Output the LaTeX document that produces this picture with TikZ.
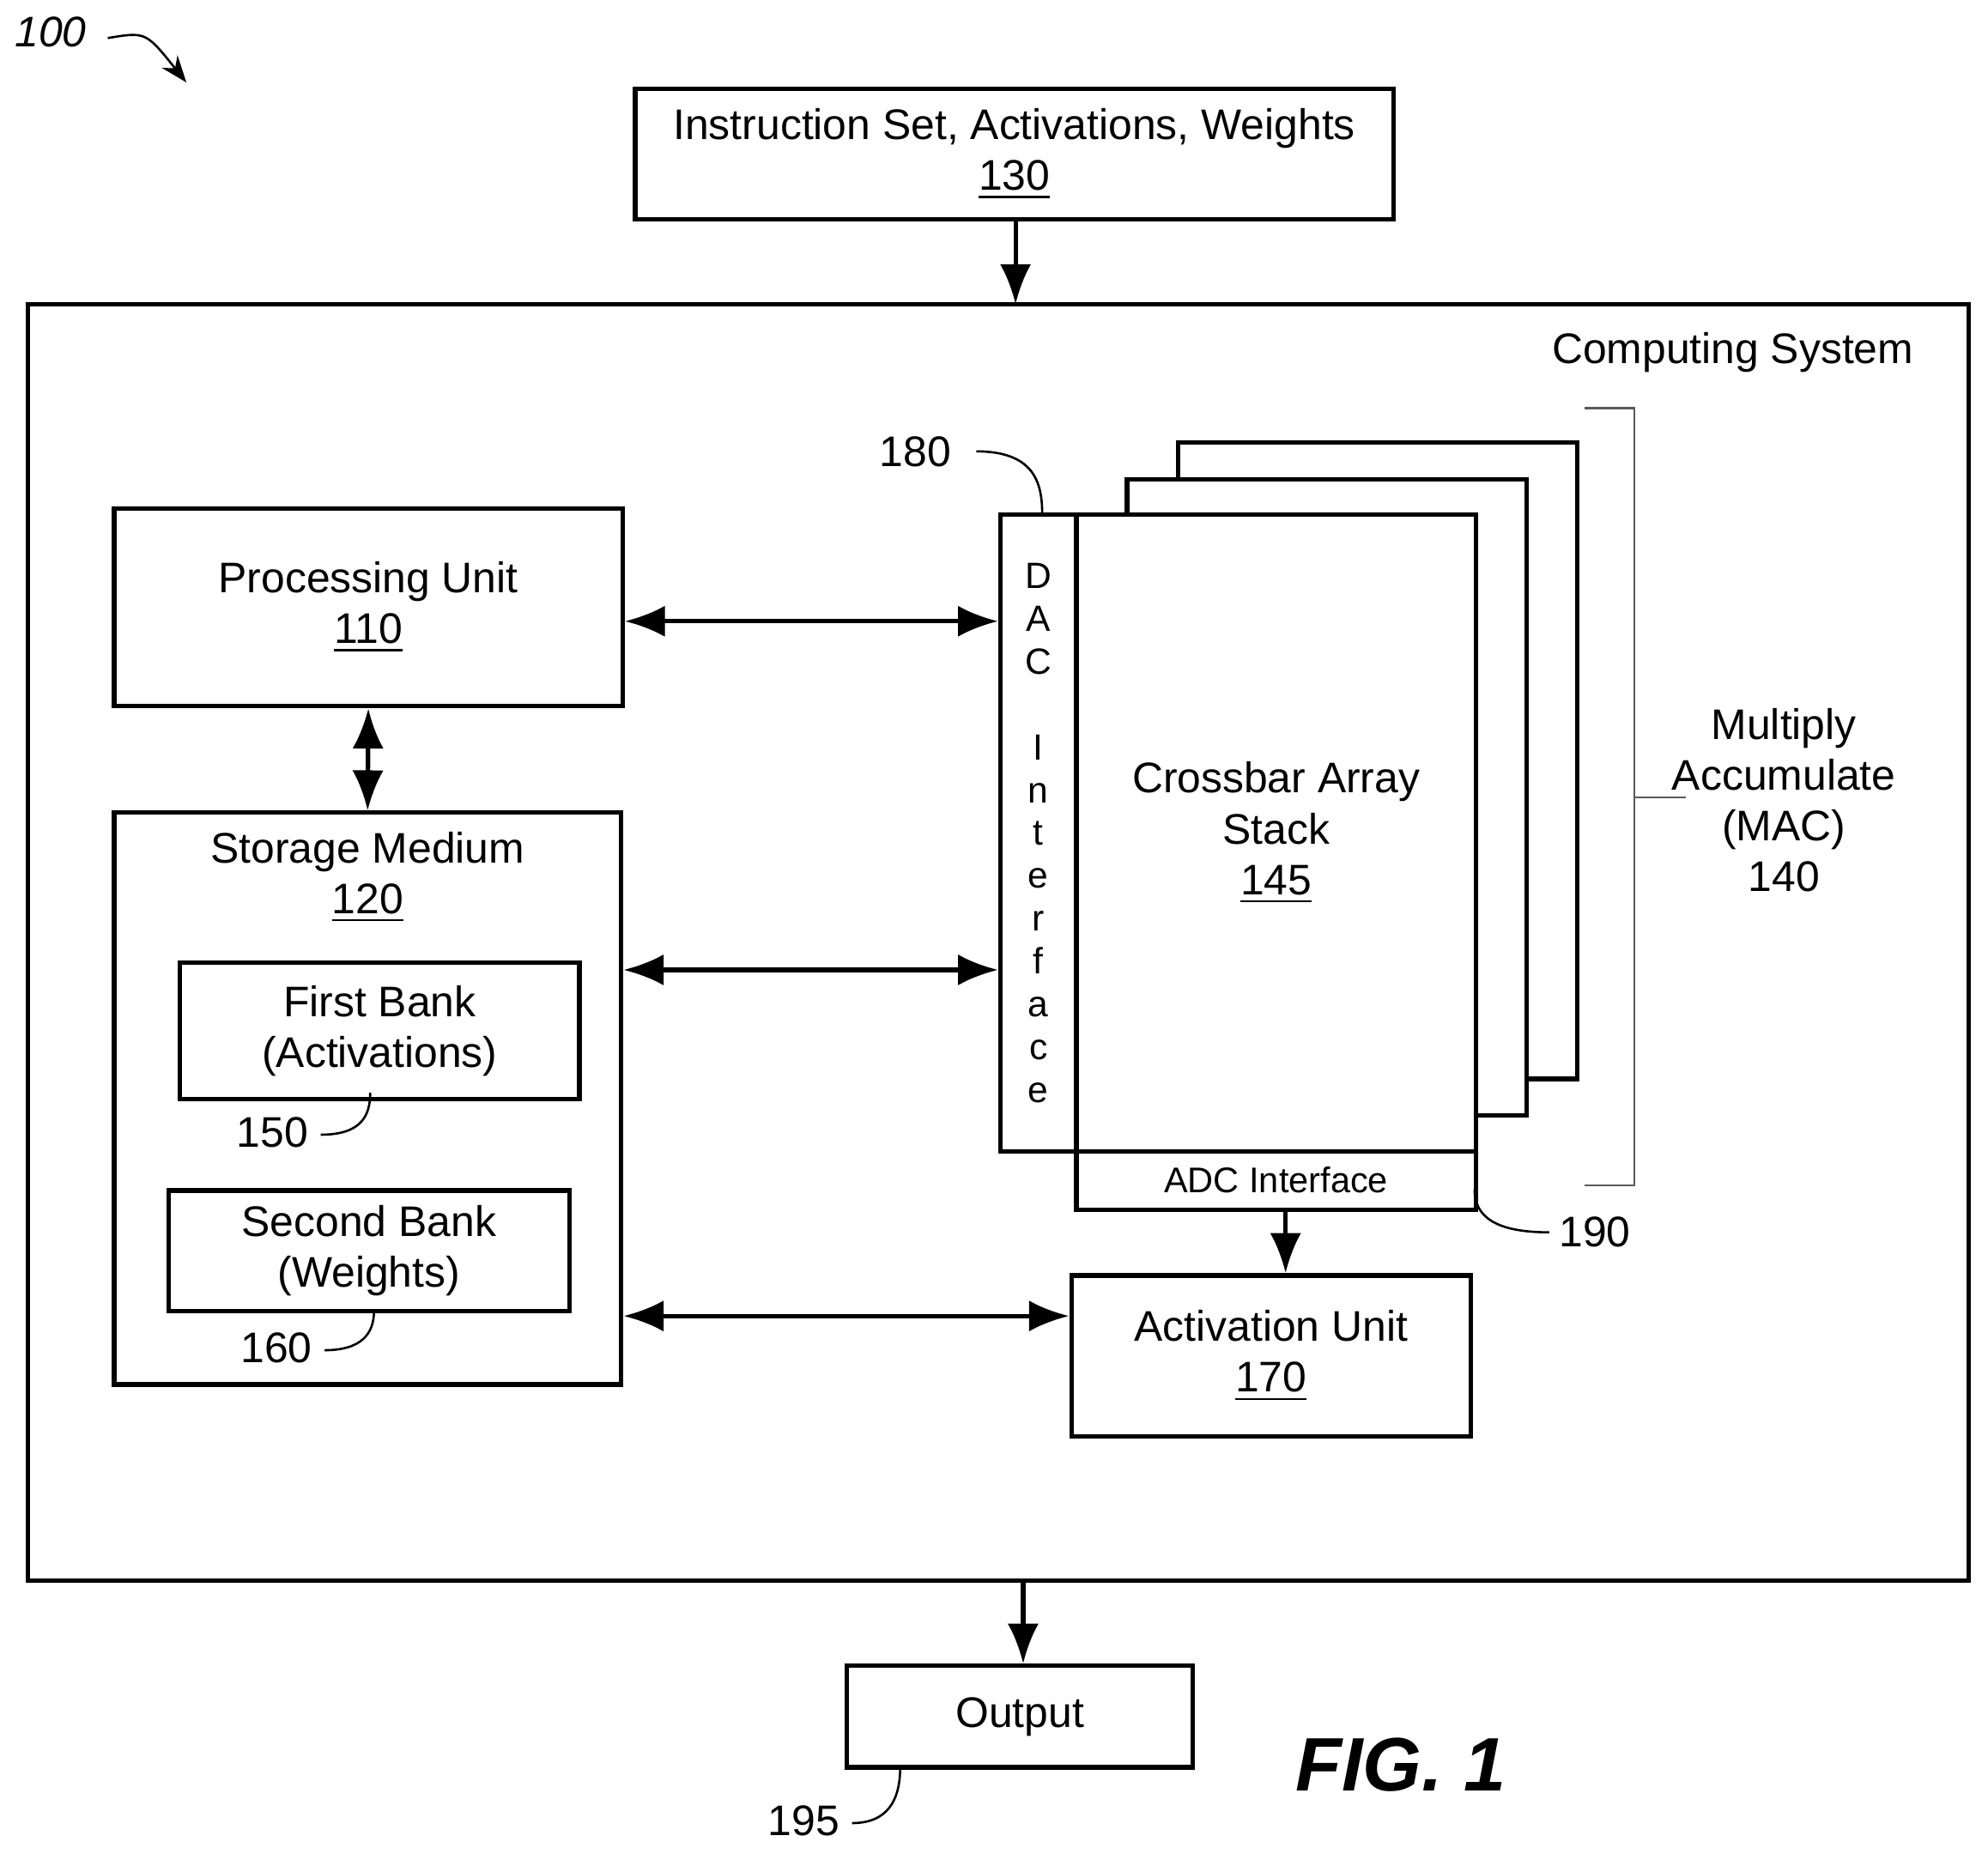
\documentclass[tikz,border=0pt]{standalone}
\usepackage{fontspec}
\setmainfont{Liberation Sans}
\usetikzlibrary{arrows.meta}
\newlength{\du}
\setlength{\du}{0.01cm}
\tikzset{
  box/.style={draw, line width=1pt, fill=white, inner sep=0pt, align=center,
    font=\fontsize{9.6}{11.4}\selectfont},
  txt/.style={inner sep=0pt, align=center, font=\fontsize{9.6}{11.4}\selectfont},
  link/.style={line width=1pt, {Latex[length=9pt,width=7pt]}-{Latex[length=9pt,width=7pt]}},
  flow/.style={line width=1pt, -{Latex[length=9pt,width=7pt]}},
  lead/.style={line width=0.5pt},
}
\begin{document}
\begin{tikzpicture}[x=1\du, y=-1\du]
\useasboundingbox (0,0) rectangle (1568,1462);
% reference numeral of the figure
\node[txt, font=\fontsize{9.6}{11.4}\selectfont\itshape] (n100) at (40,25) {100};
\draw[lead, -{Stealth[length=6pt]}] (85,30) .. controls (115,25) .. (147,65);
% input
\node[box, minimum width=598\du, minimum height=103\du] (instr) at (800,121.5)
  {Instruction Set, Activations, Weights\\\underline{130}};
% computing system
\node[box, fill=none, minimum width=1531\du, minimum height=1007\du] (sys) at (787.5,743.5) {};
\node[txt, anchor=east] (systxt) at (1510,278) {Computing System};
\draw[flow] (instr.south -| 801,0) -- (801,240);
% processing and storage
\node[box, minimum width=401\du, minimum height=156\du] (pu) at (290.5,479)
  {Processing Unit\\\underline{110}};
\node[box, minimum width=400\du, minimum height=451\du] (sm) at (290,866.5) {};
\node[txt] (smtxt) at (290,692) {Storage Medium\\\underline{120}};
\node[box, minimum width=315\du, minimum height=108\du] (bank1) at (299.5,813)
  {First Bank\\(Activations)};
\node[box, minimum width=316\du, minimum height=95\du] (bank2) at (291,986.5)
  {Second Bank\\(Weights)};
\node[txt] (n150) at (215,893) {150};
\draw[lead] (253,895) .. controls (285,895) and (292,880) .. (292,862);
\node[txt] (n160) at (218,1063) {160};
\draw[lead] (256,1065) .. controls (285,1065) and (295,1052) .. (295,1034);
% crossbar stack
\node[box, minimum width=315\du, minimum height=502\du] (xb3) at (1086.5,600) {};
\node[box, minimum width=315\du, minimum height=502\du] (xb2) at (1046.5,629) {};
\node[box, minimum width=315\du, minimum height=502\du] (xb1) at (1006.5,657)
  {Crossbar Array\\Stack\\\underline{145}};
\node[box, minimum width=60\du, minimum height=502\du,
  font=\fontsize{8.2}{9.6}\selectfont] (dac) at (819,657)
  {D\\A\\C\\\mbox{}\\I\\n\\t\\e\\r\\f\\a\\c\\e};
\node[box, minimum width=315\du, minimum height=46\du,
  font=\fontsize{8}{9.6}\selectfont] (adc) at (1006.5,931) {ADC Interface};
\node[txt] (n180) at (722,356) {180};
\draw[lead] (770,356) .. controls (815,356) and (822,380) .. (822,405);
\node[txt] (n190) at (1258,972) {190};
\draw[lead] (1222,972) .. controls (1180,972) and (1163,960) .. (1163,938);
% MAC bracket
\draw[lead, gray!70!black] (1250,322) -- (1289,322) -- (1289,935) -- (1250,935);
\draw[lead, gray!70!black] (1289,629) -- (1330,629);
\node[txt] (mac) at (1407,631) {Multiply\\Accumulate\\(MAC)\\140};
% activation unit
\node[box, minimum width=315\du, minimum height=127\du] (act) at (1002.5,1069.5)
  {Activation Unit\\\underline{170}};
% connectors
\draw[link] (pu.east |- 0,490) -- (dac.west |- 0,490);
\draw[link] (pu.south) -- (sm.north);
\draw[link] (sm.east |- 0,765) -- (dac.west |- 0,765);
\draw[link] (sm.east |- 0,1038) -- (act.west |- 0,1038);
\draw[flow] (adc.south -| 1014,0) -- (act.north -| 1014,0);
% output
\node[box, minimum width=273\du, minimum height=80\du] (out) at (804.5,1354) {Output};
\draw[flow] (807,1247) -- (out.north -| 807,0);
\node[txt] (n195) at (634,1436) {195};
\draw[lead] (672,1438) .. controls (700,1438) and (710,1420) .. (710,1394);
\node[txt, font=\fontsize{17}{20}\selectfont\bfseries\itshape] (fig) at (1105,1392) {FIG. 1};
\end{tikzpicture}
\end{document}
